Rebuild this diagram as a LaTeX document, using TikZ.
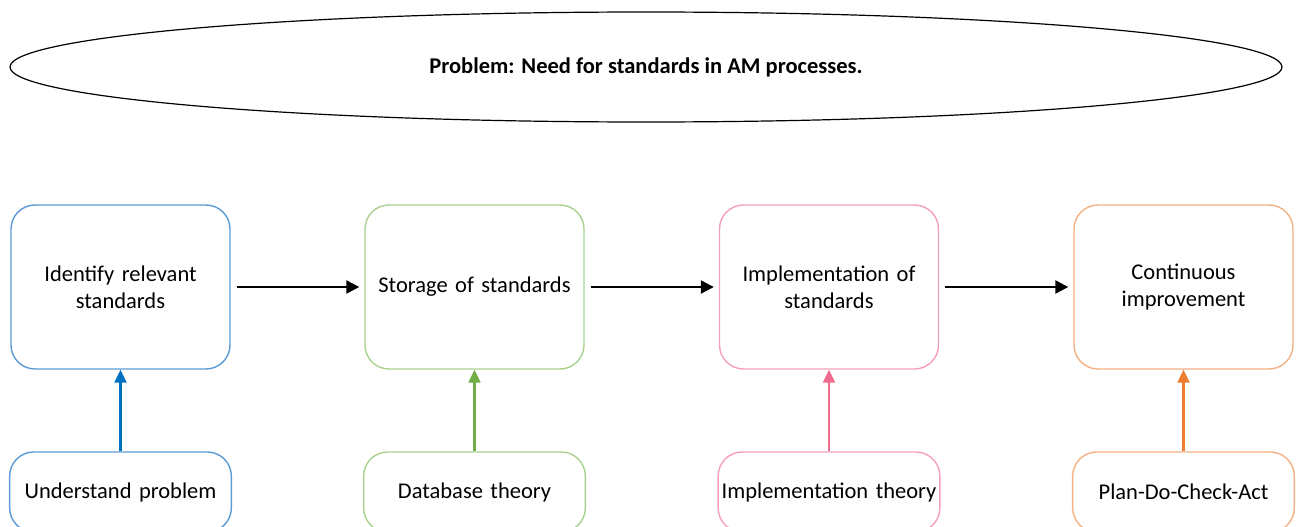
\documentclass[tikz,border=0pt]{standalone}
\usepackage{fontspec}
\setmainfont{Carlito}
\usetikzlibrary{shapes.geometric,arrows.meta}
\definecolor{blueline}{HTML}{5B9BD5}
\definecolor{bluearrow}{HTML}{0070C0}
\definecolor{greenline}{HTML}{A9D18E}
\definecolor{greenarrow}{HTML}{70AD47}
\definecolor{pinkline}{HTML}{F4A0B8}
\definecolor{pinkarrow}{HTML}{F06C8C}
\definecolor{orangeline}{HTML}{F4B183}
\definecolor{orangearrow}{HTML}{ED7D31}
\tikzset{
  stage/.style={draw=#1, line width=1.4pt, rounded corners=24pt, fill=white,
    minimum width=219pt, minimum height=164pt, align=center, text width=205pt,
    font=\fontsize{22.5}{27}\selectfont},
  source/.style={draw=#1, line width=1.4pt, rounded corners=24pt, fill=white,
    minimum width=219pt, minimum height=80pt, align=center, text width=215pt,
    font=\fontsize{22.5}{27}\selectfont},
  flow/.style={line width=2.2pt, -{Triangle[length=13pt,width=13pt]},
    shorten <=6pt, shorten >=5pt},
  feed/.style={draw=#1, line width=2.2pt, -{Triangle[length=13pt,width=12pt]}}
}
\begin{document}
\begin{tikzpicture}[x=1pt,y=-1pt]
\useasboundingbox (0,0) rectangle (1296,527);
\clip (0,0) rectangle (1296,527);

% problem statement
\node (prob) [ellipse, draw, line width=1.2pt, minimum width=1272pt, minimum height=110pt,
  inner sep=0pt, font=\bfseries\fontsize{22.5}{27}\selectfont] at (646,67)
  {Problem: Need for standards in AM processes.};

% main stages
\node (s1) [stage=blueline]   at (120.5,287) {Identify relevant\\standards};
\node (s2) [stage=greenline]  at (474.5,287) {Storage of standards};
\node (s3) [stage=pinkline]   at (829,287)   {Implementation of\\standards};
\node (s4) [stage=orangeline] at (1183.5,287) {Continuous\\improvement};

% supporting theory
\node (t1) [source=blueline]   at (120.5,492) {Understand problem};
\node (t2) [source=greenline]  at (474.5,492) {Database theory};
\node (t3) [source=pinkline]   at (829,492)   {Implementation theory};
\node (t4) [source=orangeline] at (1183.5,492) {Plan-Do-Check-Act};

% sequence of stages
\draw[flow] (s1) -- (s2);
\draw[flow] (s2) -- (s3);
\draw[flow] (s3) -- (s4);

% theory feeding each stage
\draw[feed=bluearrow]   (t1) -- (s1);
\draw[feed=greenarrow]  (t2) -- (s2);
\draw[feed=pinkarrow]   (t3) -- (s3);
\draw[feed=orangearrow] (t4) -- (s4);
\end{tikzpicture}
\end{document}
